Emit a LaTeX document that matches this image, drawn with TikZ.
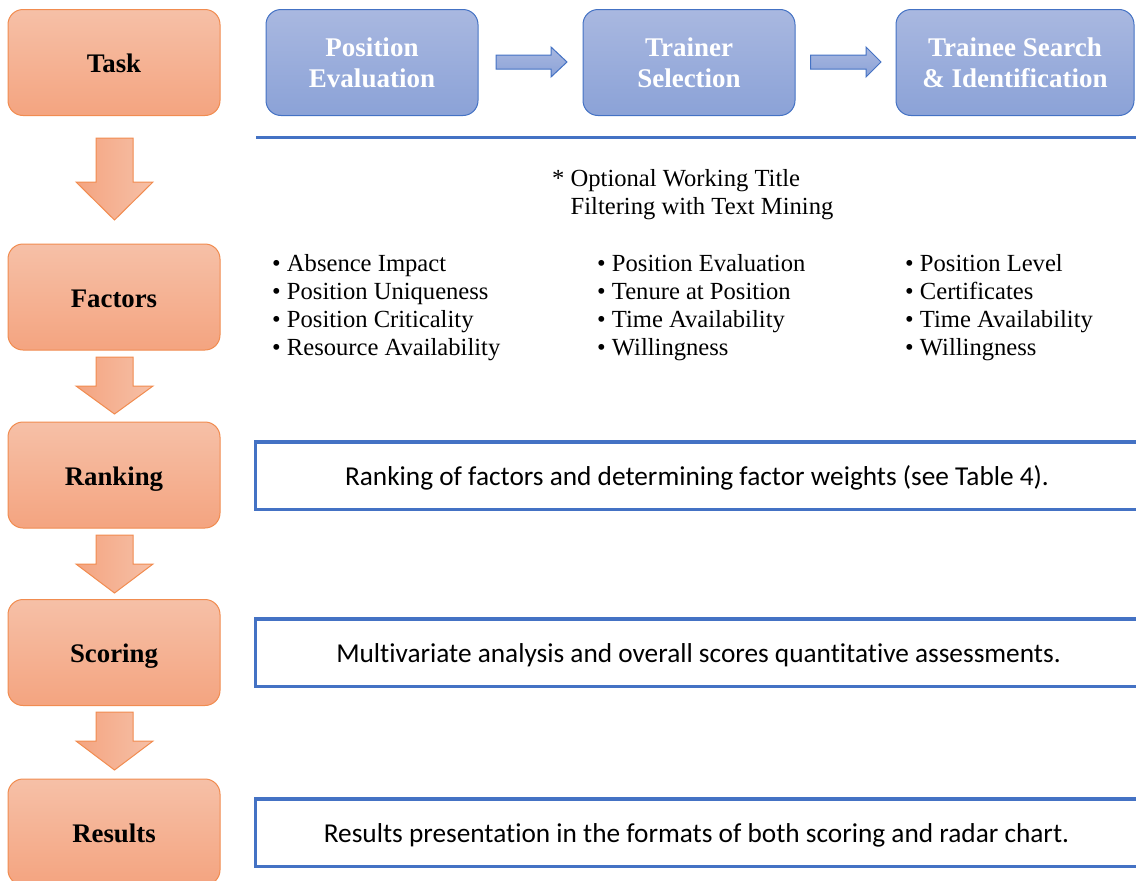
\documentclass[tikz,border=0pt]{standalone}
\usepackage{fontspec}
\setmainfont{Liberation Serif}
\newfontfamily\calib[Ligatures=NoCommon]{Carlito}
\definecolor{orTop}{RGB}{246,192,167}
\definecolor{orBot}{RGB}{244,164,128}
\definecolor{orLine}{RGB}{241,140,80}
\definecolor{blTop}{RGB}{169,184,224}
\definecolor{blBot}{RGB}{139,162,215}
\definecolor{blLine}{RGB}{68,114,196}
\tikzset{
  stage/.style={rounded corners=15pt, minimum width=212pt, minimum height=106pt,
    top color=orTop, bottom color=orBot, draw=orLine, line width=1pt,
    font=\fontsize{26.8}{31}\selectfont\bfseries, text=black, inner sep=0pt,
    text height=20pt, text depth=0pt},
  taskbox/.style={rounded corners=15pt, minimum height=106pt,
    top color=blTop, bottom color=blBot, draw=blLine, line width=1pt,
    font=\fontsize{27}{31}\selectfont\bfseries, text=white, align=center, inner sep=0pt},
  frame/.style={draw=blLine, line width=3.5pt, minimum height=67.5pt, minimum width=940pt,
    inner sep=0pt, anchor=west},
  desc/.style={font=\calib\fontsize{27.3}{32}\selectfont, inner sep=0pt, text height=19pt, text depth=0pt},
  factorlist/.style={font=\fontsize{24.6}{28}\selectfont, align=left, anchor=north west, inner sep=0pt},
  downarrow/.style={left color=orBot, right color=orTop, draw=orLine, line width=1pt},
  rightarrow/.style={top color=blTop, bottom color=blBot, draw=blLine, line width=1pt},
}
% block arrow pointing down: centre x, shaft top, head start, tip
\newcommand\blockdown[4]{%
  \shadedraw[downarrow] (#1-18.5,#2) -- (#1+18.5,#2) -- (#1+18.5,#3) -- (#1+38.5,#3)
    -- (#1,#4) -- (#1-38.5,#3) -- (#1-18.5,#3) -- cycle;}
% block arrow pointing right: left x, head start x, tip x, centre y
\newcommand\blockright[4]{%
  \shadedraw[rightarrow] (#1,#4-7) -- (#2,#4-7) -- (#2,#4-15) -- (#3,#4)
    -- (#2,#4+15) -- (#2,#4+7) -- (#1,#4+7) -- cycle;}
\begin{document}
\begin{tikzpicture}[x=1pt,y=-1pt]
\useasboundingbox (0,0) rectangle (1136,881);
\clip (0,0) rectangle (1136,881);
\fill[white] (0,0) rectangle (1136,881);

% stage column
\node[stage] (task)    at (114,62.5) {Task};
\node[stage] (factors) at (114,297)  {Factors};
\node[stage] (ranking) at (114,475)  {Ranking};
\node[stage] (scoring) at (114,652.5){Scoring};
\node[stage] (results) at (114,832)  {Results};

\blockdown{114.5}{138}{182}{220}
\blockdown{114.5}{357}{386}{414}
\blockdown{114.5}{535}{564}{593}
\blockdown{114.5}{712}{741}{770}

% task sequence
\node[taskbox, minimum width=212pt] (poseval) at (372,62.5) {Position\\Evaluation};
\node[taskbox, minimum width=212pt] (trainer) at (689,62.5) {Trainer\\Selection};
\node[taskbox, minimum width=238pt] (trainee) at (1015,62.5) {Trainee Search\\\& Identification};
\blockright{496}{551}{567}{62}
\blockright{810.5}{866}{881}{62}

\coordinate (ruleL) at (256,137);
\coordinate (ruleR) at (1140,137);
\draw[blLine, line width=3pt] (ruleL) -- (ruleR);

\node[factorlist] (note) at (552,169) {* Optional Working Title\\\hphantom{*} Filtering with Text Mining};

% factors per task
\node[factorlist] (f1) at (272,254.5) {• Absence Impact\\• Position Uniqueness\\• Position Criticality\\• Resource Availability};
\node[factorlist] (f2) at (597,254.5) {• Position Evaluation\\• Tenure at Position\\• Time Availability\\• Willingness};
\node[factorlist] (f3) at (905,254.5) {• Position Level\\• Certificates\\• Time Availability\\• Willingness};

% descriptions
\node[frame] (rankframe)  at (253.6,475.5) {};
\node[frame] (scoreframe) at (253.6,652.5) {};
\node[frame] (resframe)   at (253.6,832.5) {};
\node[desc] (ranktext)  at (697,475.5) {Ranking of factors and determining factor weights (see Table 4).};
\node[desc] (scoretext) at (698.5,652.5) {Multivariate analysis and overall scores quantitative assessments.};
\node[desc] (restext)   at (696.5,832.5) {Results presentation in the formats of both scoring and radar chart.};
\end{tikzpicture}
\end{document}
